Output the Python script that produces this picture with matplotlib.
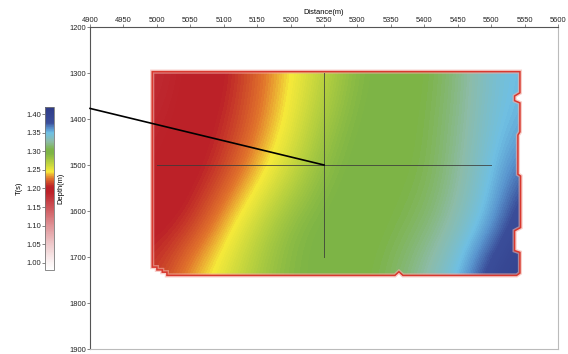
import numpy as np
import matplotlib
matplotlib.use('Agg')
import matplotlib.pyplot as plt
from matplotlib.colors import LinearSegmentedColormap
from matplotlib.patches import Polygon

plt.rcParams['font.family'] = ['Liberation Sans', 'DejaVu Sans']

# ---- data ----
distance = [5000, 5050, 5100, 5150, 5200, 5250, 5300, 5350, 5400, 5450, 5500, 5550]
depth = [1300, 1410, 1520, 1630, 1740]
T_1300 = [1.180, 1.192, 1.202, 1.222, 1.244, 1.268, 1.292, 1.299, 1.303, 1.318, 1.342, 1.352]
T_1410 = [1.185, 1.196, 1.207, 1.226, 1.250, 1.280, 1.296, 1.300, 1.305, 1.321, 1.344, 1.357]
T_1520 = [1.190, 1.200, 1.214, 1.238, 1.265, 1.290, 1.299, 1.302, 1.306, 1.324, 1.350, 1.374]
T_1630 = [1.200, 1.210, 1.236, 1.266, 1.290, 1.298, 1.300, 1.304, 1.313, 1.332, 1.358, 1.396]
T_1740 = [1.212, 1.236, 1.256, 1.278, 1.292, 1.298, 1.302, 1.310, 1.328, 1.352, 1.394, 1.402]

body_x = [4993, 5543, 5543, 5535, 5535, 5543, 5543, 5540, 5540, 5544, 5544, 5535, 5535,
          5543, 5543, 5538, 5368, 5362, 5356, 5015, 5015, 5008, 5008, 5000, 5000, 4993]
body_depth = [1297, 1297, 1343, 1350, 1360, 1365, 1428, 1435, 1520, 1524, 1636, 1643, 1686,
              1690, 1735, 1740, 1740, 1732, 1740, 1740, 1733, 1733, 1728, 1728, 1722, 1722]

ray_x = [4900, 5250]
ray_depth = [1377, 1500]
cross_h_x = [5000, 5500]
cross_h_depth = [1500, 1500]
cross_v_x = [5250, 5250]
cross_v_depth = [1300, 1700]

x_ticks = list(range(4900, 5601, 50))
y_ticks = list(range(1200, 1901, 100))
cbar_ticks = [1.00, 1.05, 1.10, 1.15, 1.20, 1.25, 1.30, 1.35, 1.40]
t_min, t_max = 0.98, 1.42

# ---- colormap ----
cm_nodes = [(0.98, '#ffffff'), (1.00, '#fbf3f3'), (1.05, '#eec8ca'), (1.10, '#df9296'),
            (1.15, '#cd5358'), (1.19, '#bc2128'), (1.205, '#bc2128'), (1.228, '#e2762c'),
            (1.246, '#f6ea3a'), (1.27, '#b9d13f'), (1.295, '#7db446'), (1.305, '#7db446'),
            (1.328, '#8dbca8'), (1.35, '#6fc0e3'), (1.362, '#5a96cf'), (1.378, '#3b4e9a'),
            (1.42, '#2e3a86')]
cmap = LinearSegmentedColormap.from_list(
    'tcmap', [((v - t_min) / (t_max - t_min), c) for v, c in cm_nodes])

fs = 5.4
fig = plt.figure(figsize=(5.68, 3.54), dpi=100)
ax = fig.add_axes([0.1585, 0.0141, 0.824, 0.9096])

T = np.array([T_1300, T_1410, T_1520, T_1630, T_1740])
dx = (distance[1] - distance[0]) / 2
dz = (depth[1] - depth[0]) / 2
im = ax.imshow(T, origin='lower', cmap=cmap, vmin=t_min, vmax=t_max,
               extent=(distance[0] - dx, distance[-1] + dx, depth[0] - dz, depth[-1] + dz),
               interpolation='bicubic', interpolation_stage='data', aspect='auto', zorder=1)
verts = np.column_stack([body_x, body_depth])
clip = Polygon(verts, closed=True, fc='none', ec='none')
ax.add_patch(clip)
im.set_clip_path(clip)
ax.add_patch(Polygon(verts, closed=True, fill=False, ec='#f2b0a8', lw=3.0, alpha=0.6, zorder=2))
ax.add_patch(Polygon(verts, closed=True, fill=False, ec='#d8382e', lw=1.1, zorder=3))

ax.plot(cross_h_x, cross_h_depth, color='#3a3a3a', lw=0.7, alpha=0.8, zorder=4)
ax.plot(cross_v_x, cross_v_depth, color='#3a3a3a', lw=0.7, alpha=0.8, zorder=4)
ax.plot(ray_x, ray_depth, color='black', lw=1.2, zorder=5, clip_on=False)

ax.set_xlim(4900, 5600)
ax.set_ylim(1900, 1200)
ax.xaxis.tick_top()
ax.xaxis.set_label_position('top')
ax.set_xticks(x_ticks)
ax.set_yticks(y_ticks)
ax.set_xlabel('Distance(m)', fontsize=fs, labelpad=2)
ax.set_ylabel('Depth(m)', fontsize=fs)
ax.yaxis.set_label_coords(-0.0556, 0.5)
ax.tick_params(labelsize=fs, length=2, width=0.5, color='#555555', labelcolor='#222222')
ax.tick_params(axis='x', pad=0.3)
ax.tick_params(axis='y', pad=0.8)
for s in ['left', 'top']:
    ax.spines[s].set_color('#555555')
    ax.spines[s].set_linewidth(0.8)
for s in ['right', 'bottom']:
    ax.spines[s].set_color('#bbbbbb')
    ax.spines[s].set_linewidth(0.8)

cax = fig.add_axes([0.0792, 0.2373, 0.0158, 0.4605])
cb = fig.colorbar(im, cax=cax, ticks=cbar_ticks, format='%.2f')
cax.yaxis.set_ticks_position('left')
cax.yaxis.set_label_position('left')
cb.set_label('T(s)', fontsize=fs)
cax.yaxis.set_label_coords(-2.44, 0.5)
cax.tick_params(labelsize=fs, length=2, width=0.5, color='#555555', pad=0.8, labelcolor='#222222')
cb.outline.set_edgecolor('#777777')
cb.outline.set_linewidth(0.6)

fig.savefig('out.png', dpi=100)
